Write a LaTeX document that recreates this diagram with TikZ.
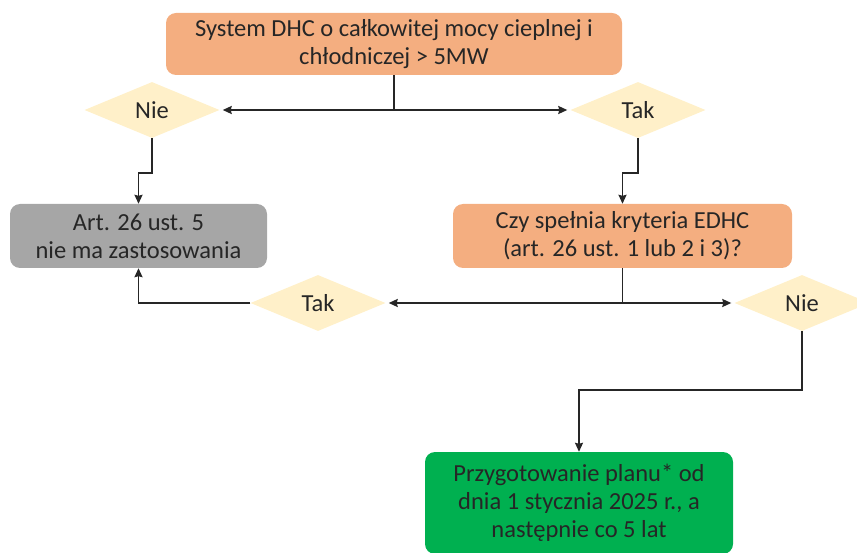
\documentclass[tikz,border=0pt]{standalone}
\usepackage{fontspec}
\setmainfont{Carlito}
\usepackage{tikz}
\usetikzlibrary{arrows.meta,shapes.geometric}

\definecolor{boxorange}{HTML}{F4AE80}
\definecolor{boxgray}{HTML}{A6A6A6}
\definecolor{boxgreen}{HTML}{00B050}
\definecolor{decision}{HTML}{FFF0C9}
\definecolor{ink}{HTML}{262626}

\begin{document}
\begin{tikzpicture}[x=1pt,y=-1pt,font=\fontsize{24.5}{28}\selectfont]
		\clip (0,0) rectangle (857,553);
		\begin{scope}[every node/.style={rounded corners=10pt,align=center,inner sep=0pt,text=ink}]
			\node[fill=boxorange,minimum width=456pt,minimum height=62pt] (SYS) at (394,44) {System DHC o całkowitej mocy cieplnej i\\chłodniczej > 5MW};
			\node[fill=boxgray,minimum width=257pt,minimum height=64pt] (ART) at (138.5,236) {Art. 26 ust. 5\\nie ma zastosowania};
			\node[fill=boxorange,minimum width=339pt,minimum height=64pt] (EDHC) at (622.5,236) {Czy spełnia kryteria EDHC\\(art. 26 ust. 1 lub 2 i 3)?};
			\node[fill=boxgreen,minimum width=308pt,minimum height=102pt] (PLAN) at (579,503) {Przygotowanie planu* od\\dnia 1 stycznia 2025 r., a\\następnie co 5 lat};
		\end{scope}
		\begin{scope}[every node/.style={diamond,fill=decision,minimum width=135pt,minimum height=56pt,inner sep=0pt,text=ink}]
			\node (NIE1) at (152,110) {Nie};
			\node (TAK1) at (638,110) {Tak};
			\node (TAK2) at (318,303) {Tak};
			\node (NIE2) at (802,303) {Nie};
		\end{scope}
		\begin{scope}[>={Stealth[length=9pt,width=8pt,inset=1pt]},
			line width=1.6pt,draw=ink]
			\draw [->,shorten >=3pt] (SYS.south) |- (NIE1.east);
			\draw [->,shorten >=3pt] (SYS.south) |- (TAK1.west);
			\draw [->] (NIE1.south) -- ++(0,35) -| (ART.north);
			\draw [->] (TAK1.south) -- ++(0,35) -| (EDHC.north);
			\draw [->,shorten >=3pt] (EDHC.south) |- (TAK2.east);
			\draw [->,shorten >=3pt] (EDHC.south) |- (NIE2.west);
			\draw [->] (TAK2.west) -| (ART.south);
			\draw [->] (NIE2.south) -- ++(0,59) -| (PLAN.north);
		\end{scope}
	\end{tikzpicture}
\end{document}
